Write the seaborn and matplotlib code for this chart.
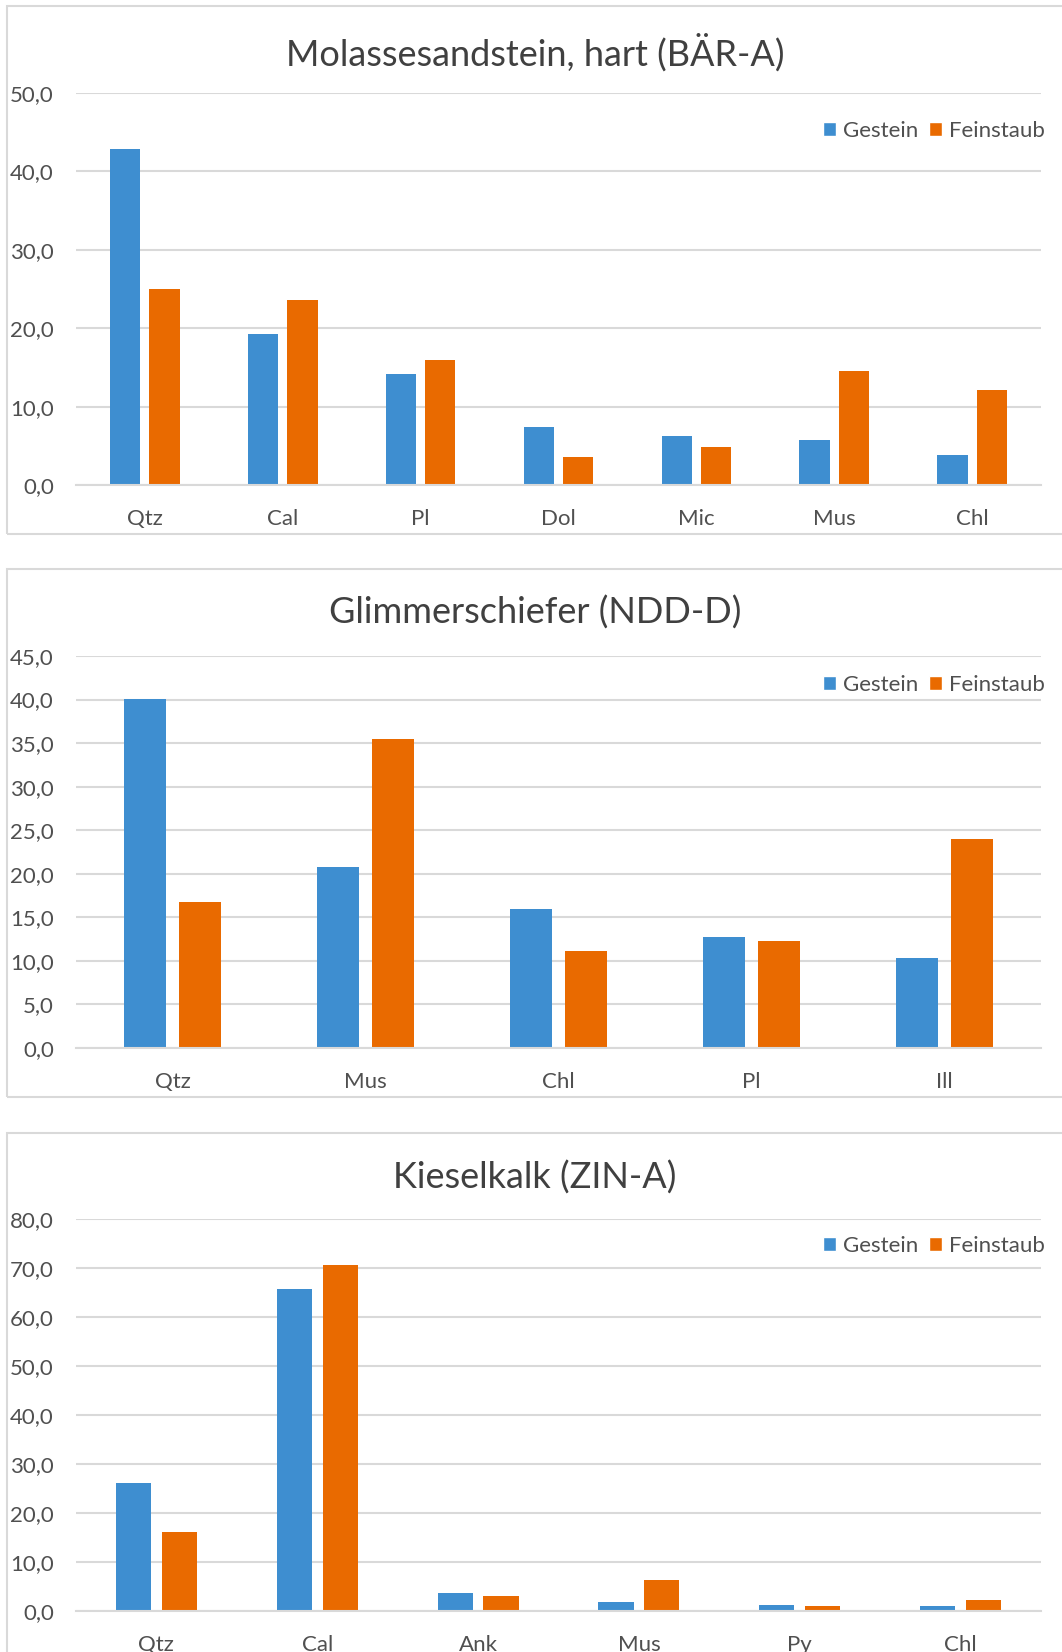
import pandas as pd
import seaborn as sns
import matplotlib.pyplot as plt
from matplotlib import font_manager
from matplotlib.patches import Rectangle, Patch

# --- data (Anteil in %) ---
minerals_a = ["Qtz", "Cal", "Pl", "Dol", "Mic", "Mus", "Chl"]
gestein_a = [42.9, 19.3, 14.1, 7.4, 6.2, 5.8, 3.8]
feinstaub_a = [25.0, 23.6, 16.0, 3.6, 4.8, 14.6, 12.1]

minerals_b = ["Qtz", "Mus", "Chl", "Pl", "Ill"]
gestein_b = [40.1, 20.8, 16.0, 12.7, 10.3]
feinstaub_b = [16.8, 35.5, 11.1, 12.3, 24.0]

minerals_c = ["Qtz", "Cal", "Ank", "Mus", "Py", "Chl"]
gestein_c = [26.2, 65.7, 3.7, 1.9, 1.2, 1.0]
feinstaub_c = [16.1, 70.7, 3.1, 6.3, 1.0, 2.3]

titles = ["Molassesandstein, hart (BÄR-A)", "Glimmerschiefer (NDD-D)", "Kieselkalk (ZIN-A)"]
series = ["Gestein", "Feinstaub"]

BLUE = "#3E8ED0"
ORANGE = "#E96A00"
GRID = "#D9D9D9"
TXT = "#505050"

sns.set_style("white")
available = {f.name for f in font_manager.fontManager.ttflist}
base_font = "Liberation Sans Narrow" if "Liberation Sans Narrow" in available else "Lato"
plt.rcParams["font.family"] = [base_font, "DejaVu Sans"]

W, H = 1062, 1652
fig = plt.figure(figsize=(W / 100, H / 100), dpi=100)


def px_axes(left, top, right, bottom):
    return fig.add_axes([left / W, 1 - bottom / H, (right - left) / W, (bottom - top) / H])


def long_df(minerals, gestein, feinstaub):
    rows = []
    for m, g, f in zip(minerals, gestein, feinstaub):
        rows.append({"Mineral": m, "Probe": "Gestein", "Anteil": g})
        rows.append({"Mineral": m, "Probe": "Feinstaub", "Anteil": f})
    return pd.DataFrame(rows)


panels = [
    # minerals, gestein, feinstaub, ymax, step, axes top, axes bottom, panel top, panel bottom, title y, legend offset
    (minerals_a, gestein_a, feinstaub_a, 50, 10, 93, 485, 6, 534, 52, 38),
    (minerals_b, gestein_b, feinstaub_b, 45, 5, 656, 1048, 569, 1097, 613, 29),
    (minerals_c, gestein_c, feinstaub_c, 80, 10, 1219, 1611, 1133, 1700, 1178, 27),
]

for i, (mins, g, f, ymax, step, a_top, a_bot, p_top, p_bot, t_y, leg_off) in enumerate(panels):
    # chart area border
    fig.patches.append(Rectangle((7 / W, 1 - p_bot / H), (1070 - 7) / W, (p_bot - p_top) / H,
                                 transform=fig.transFigure, fill=False,
                                 edgecolor=GRID, linewidth=1.5, zorder=0))

    ax = px_axes(76, a_top, 1041, a_bot)
    df = long_df(mins, g, f)
    sns.barplot(data=df, x="Mineral", y="Anteil", hue="Probe", order=mins,
                hue_order=series, palette=[BLUE, ORANGE], saturation=1,
                width=0.57, gap=0.23, linewidth=0, legend=False, ax=ax)

    ax.set_xlim(-0.5, len(mins) - 0.5)
    ax.set_ylim(0, ymax)
    ticks = list(range(0, ymax + 1, step))
    ax.set_yticks(ticks)
    ax.set_yticklabels([f"{t:.1f}".replace(".", ",") for t in ticks])
    ax.set_xlabel("")
    ax.set_ylabel("")
    ax.set_axisbelow(True)
    ax.yaxis.grid(True, color=GRID, linewidth=1.5)
    for s in ["top", "right", "left"]:
        ax.spines[s].set_visible(False)
    ax.spines["bottom"].set_color(GRID)
    ax.spines["bottom"].set_linewidth(1.5)
    ax.tick_params(axis="both", length=0, labelsize=16, labelcolor=TXT)
    ax.tick_params(axis="y", pad=16)
    ax.tick_params(axis="x", pad=17)

    fig.text(535 / W, 1 - t_y / H, titles[i], ha="center", va="center",
             fontsize=26, color="#404040")

    handles = [Patch(facecolor=BLUE, label="Gestein"), Patch(facecolor=ORANGE, label="Feinstaub")]
    ax.legend(handles=handles, ncol=2, frameon=False, loc="center right",
              bbox_to_anchor=(1045 / W, 1 - (a_top + leg_off) / H),
              bbox_transform=fig.transFigure, fontsize=16, labelcolor=TXT,
              handlelength=0.6, handleheight=0.6, handletextpad=0.3,
              columnspacing=0.5, borderpad=0, borderaxespad=0)

fig.savefig("out.png", dpi=100)
